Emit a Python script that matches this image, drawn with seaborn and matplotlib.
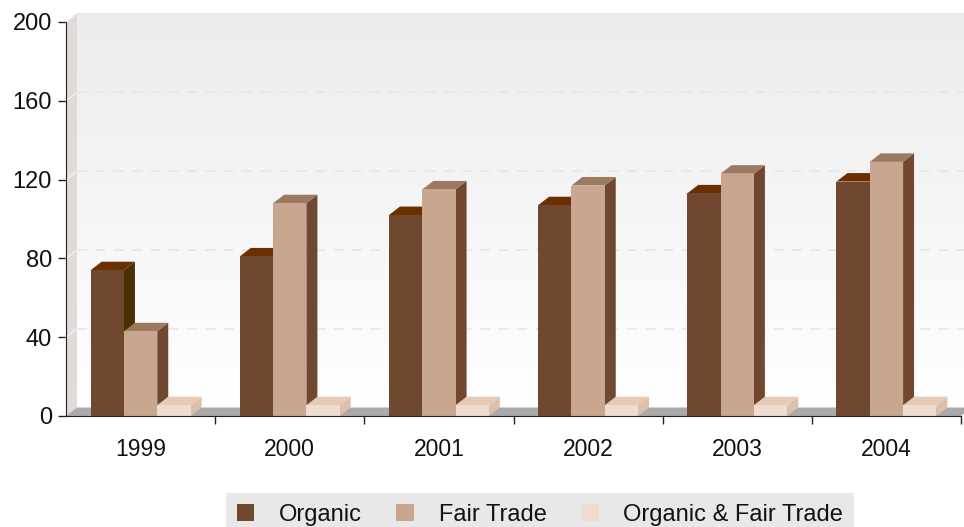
import numpy as np
import pandas as pd
import seaborn as sns
import matplotlib.pyplot as plt
from matplotlib.colors import to_rgb
from matplotlib.patches import Polygon, Patch, Rectangle

years = ['1999', '2000', '2001', '2002', '2003', '2004']
organic = [74, 81, 102, 107, 113, 119]
fair_trade = [43, 108, 115, 117, 123, 129]
organic_fair_trade = [5.5, 5.5, 5.5, 5.5, 5.5, 5.5]
series = ['Organic', 'Fair Trade', 'Organic & Fair Trade']
y_ticks = [0, 40, 80, 120, 160, 200]

front = {'Organic': '#704830', 'Fair Trade': '#c8a690', 'Organic & Fair Trade': '#eedcd0'}
top = {'Organic': '#6b2f00', 'Fair Trade': '#9c7a60', 'Organic & Fair Trade': '#e6cab6'}
side = {'Organic': '#4a3000', 'Fair Trade': '#704830', 'Organic & Fair Trade': '#dcc0aa'}

df = pd.DataFrame({
    'year': years * 3,
    'series': [s for s in series for _ in years],
    'value': organic + fair_trade + organic_fair_trade,
})

sns.set_style('white')
plt.rcParams['font.family'] = ['Liberation Sans', 'DejaVu Sans']

W, H = 964, 527
fig = plt.figure(figsize=(W / 100, H / 100), dpi=100)
ax = fig.add_axes([66 / W, (H - 416) / H, (961 - 66) / W, (416 - 22) / H])

sns.barplot(data=df, x='year', y='value', hue='series', palette=front,
            width=0.67, saturation=1, legend=False, ax=ax, errorbar=None)
bars = [p for p in ax.patches if isinstance(p, Rectangle) and p.get_height() > 0]
bars = sorted(bars, key=lambda p: p.get_x())
ax.set_xlim(-0.5, 5.5)
ax.set_ylim(0, 200)

# depth of the fake 3d in data units (11 px right, 8.5 px up)
dx = 11 / (ax.bbox.width / 6)
dy = 8.5 / (ax.bbox.height / 200)

x0, x1 = -0.5, 5.5
# back wall with gradient
grad = np.linspace(0, 1, 256).reshape(-1, 1)
ax.imshow(grad, cmap=sns.blend_palette(['#ffffff', '#ececec'], as_cmap=True),
          extent=[x0 + dx, x1 + dx, dy, 200 + dy], origin='lower', aspect='auto',
          zorder=0, clip_on=False)
ax.set_xlim(-0.5, 5.5)
ax.set_ylim(0, 200)
# left wall and floor
ax.add_patch(Polygon([(x0, 0), (x0 + dx, dy), (x0 + dx, 200 + dy), (x0, 200)],
                     closed=True, facecolor='#e0dbd9', edgecolor='none', zorder=0.5, clip_on=False))
ax.add_patch(Polygon([(x0, 0), (x1, 0), (x1 + dx, dy), (x0 + dx, dy)],
                     closed=True, facecolor='#aaaaaa', edgecolor='none', zorder=0.5, clip_on=False))
for t in y_ticks[1:]:
    ax.plot([x0 + dx, x1 + dx], [t + dy, t + dy], color='#e6e6e6', lw=1.2,
            ls=(0, (6, 5)), zorder=0.6, clip_on=False)
    ax.plot([x0, x0 + dx], [t, t + dy], color='#f2f0f0', lw=1, zorder=0.6, clip_on=False)

# 3d faces of each bar, drawn left to right
for k, b in enumerate(bars):
    bx, bw, bh = b.get_x(), b.get_width(), b.get_height()
    name = [s for s in series if np.allclose(b.get_facecolor()[:3], to_rgb(front[s]), atol=0.01)][0]
    z = 2 + 3 * k
    ax.add_patch(Polygon([(bx + bw, 0), (bx + bw + dx, dy), (bx + bw + dx, bh + dy), (bx + bw, bh)],
                         closed=True, facecolor=side[name], edgecolor='none', zorder=z))
    ax.add_patch(Polygon([(bx, bh), (bx + dx, bh + dy), (bx + bw + dx, bh + dy), (bx + bw, bh)],
                         closed=True, facecolor=top[name], edgecolor='none', zorder=z + 1))
    b.set_zorder(z + 2)
    b.set_edgecolor('none')

# axes styling
for s in ['top', 'right']:
    ax.spines[s].set_visible(False)
ax.spines['left'].set_color('#222222')
ax.spines['bottom'].set_color('#222222')
ax.spines['left'].set_zorder(100)
ax.spines['bottom'].set_zorder(100)
ax.set_yticks(y_ticks)
ax.tick_params(axis='y', length=6, width=1, color='#222222', pad=4, labelsize=17,
               left=True, direction='out', labelcolor='#111111')
ax.set_xticks(range(len(years)))
ax.set_xticklabels(years)
ax.set_xticks(np.arange(0.5, 6, 1), minor=True)
ax.tick_params(axis='x', which='major', length=0, pad=16, labelsize=16.5, labelcolor='#111111')
ax.tick_params(axis='x', which='minor', length=6, width=1, color='#222222',
               bottom=True, direction='out')
ax.set_xlabel('')
ax.set_ylabel('')
ax.grid(False)

handles = [Patch(facecolor=front[s], edgecolor='none', label=s) for s in series]
leg = fig.legend(handles=handles, loc='upper center', bbox_to_anchor=(540 / W, (H - 493) / H),
                 ncol=3, frameon=True, fancybox=False, fontsize=17, handlelength=0.75,
                 handleheight=0.75, handletextpad=1.05, columnspacing=1.45, borderpad=0.45,
                 borderaxespad=0)
for t in leg.get_texts():
    t.set_color('#111111')
leg.get_frame().set_facecolor('#e8e8e8')
leg.get_frame().set_edgecolor('none')
leg.get_frame().set_alpha(1)

fig.savefig('out.png', dpi=100, facecolor='white')
